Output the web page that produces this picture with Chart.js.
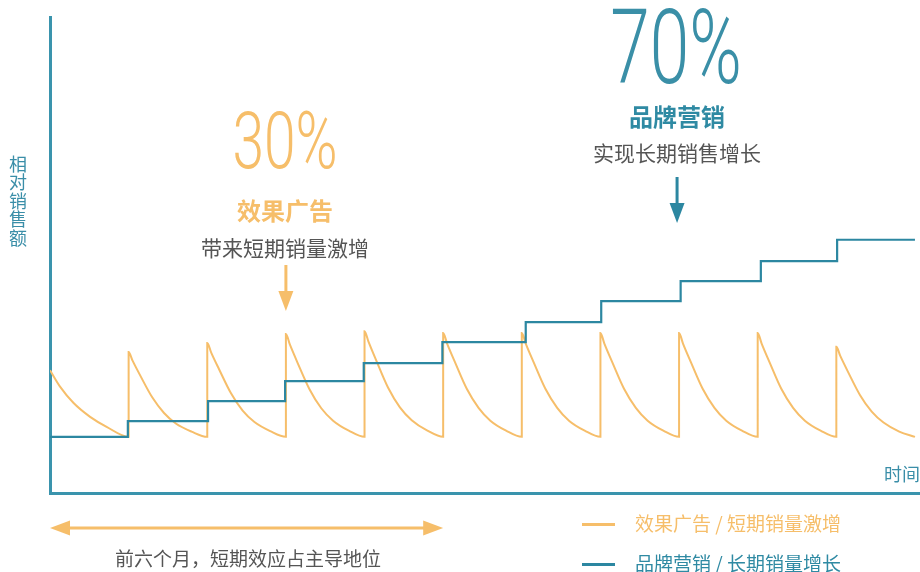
<!DOCTYPE html>
<html>
<head>
<meta charset="utf-8">
<script src="https://cdn.jsdelivr.net/npm/chart.js@4"></script>
<style>
html, body { margin: 0; padding: 0; background: #fff; }
#wrap { position: relative; width: 920px; height: 572px; font-family: "Noto Sans CJK SC", sans-serif; overflow: hidden; }
#wrap canvas { position: absolute; left: 0; top: 0; }
.t { position: absolute; white-space: nowrap; line-height: 1; transform: translate(-50%, -50%); }
.big { font-family: Roboto, sans-serif; font-weight: 300; }
.key { position: absolute; height: 3px; width: 33px; }
</style>
</head>
<body>
<div id="wrap">
  <canvas id="chart" width="920" height="572"></canvas>

  <div class="t" style="left:18px;top:201px;writing-mode:vertical-rl;font-size:18px;color:#3a8ea8;letter-spacing:0.5px;">相对销售额</div>
  <div class="t" style="left:902px;top:473px;font-size:18px;color:#3a8ea8;">时间</div>

  <div class="t big" style="left:285px;top:141px;font-size:79px;color:#f6be6a;transform:translate(-50%,-50%) scaleX(0.72);">30%</div>
  <div class="t" style="left:285px;top:210px;font-size:24px;font-weight:bold;color:#f6be6a;">效果广告</div>
  <div class="t" style="left:285px;top:247px;font-size:21px;color:#555;">带来短期销量激增</div>

  <div class="t big" style="left:676px;top:47px;font-size:103px;color:#3a8fa7;transform:translate(-50%,-50%) scaleX(0.69);">70%</div>
  <div class="t" style="left:677px;top:116px;font-size:24px;font-weight:bold;color:#2f8aa3;">品牌营销</div>
  <div class="t" style="left:677px;top:152px;font-size:21px;color:#555;">实现长期销售增长</div>

  <div class="t" style="left:248px;top:557px;font-size:19px;color:#555;">前六个月，短期效应占主导地位</div>

  <div class="key" style="left:582px;top:523px;background:#f6be6a;"></div>
  <div class="t" style="left:635px;top:522px;font-size:19px;color:#f6be6a;transform:translate(0,-50%);">效果广告 / 短期销量激增</div>
  <div class="key" style="left:582px;top:563px;background:#2c87a1;"></div>
  <div class="t" style="left:635px;top:562px;font-size:19px;color:#2f8aa3;transform:translate(0,-50%);">品牌营销 / 长期销量增长</div>
</div>

<script>
// 品牌营销：阶梯式增长（月份, 相对销售额）
const brandX = [0, 0.99, 2.01, 2.99, 3.99, 4.99, 6.05, 7.01, 8.02, 9.04, 10.01, 11];
const brandY = [11.8, 15.1, 19.3, 23.5, 27.3, 31.7, 35.9, 40.3, 44.5, 48.7, 53.2, 53.2];

// 效果广告：每月投放后的脉冲与衰减（月份, 相对销售额）
const adPoints = [
  [0, 25.8], [0.13, 22.3], [0.3, 18.9], [0.51, 16.0], [0.72, 13.9], [1, 11.8],
  [1, 29.6], [1.05, 27.8], [1.15, 24.6], [1.3, 20.1], [1.45, 16.8], [1.6, 14.6], [1.8, 12.9], [2, 11.8],
  [2, 31.5], [2.05, 29.5], [2.15, 26.0], [2.3, 21.0], [2.45, 17.3], [2.6, 14.9], [2.8, 13.0], [3, 11.8],
  [3, 33.4], [3.05, 31.2], [3.15, 27.3], [3.3, 21.8], [3.45, 17.8], [3.6, 15.2], [3.8, 13.1], [4, 11.8],
  [4, 34.0], [4.05, 31.8], [4.15, 27.8], [4.3, 22.1], [4.45, 18.0], [4.6, 15.3], [4.8, 13.1], [5, 11.8],
  [5, 33.6], [5.05, 31.4], [5.15, 27.5], [5.3, 21.9], [5.45, 17.9], [5.6, 15.2], [5.8, 13.1], [6, 11.8],
  [6, 33.6], [6.05, 31.4], [6.15, 27.5], [6.3, 21.9], [6.45, 17.9], [6.6, 15.2], [6.8, 13.1], [7, 11.8],
  [7, 33.6], [7.05, 31.4], [7.15, 27.5], [7.3, 21.9], [7.45, 17.9], [7.6, 15.2], [7.8, 13.1], [8, 11.8],
  [8, 33.6], [8.05, 31.4], [8.15, 27.5], [8.3, 21.9], [8.45, 17.9], [8.6, 15.2], [8.8, 13.1], [9, 11.8],
  [9, 33.6], [9.05, 31.4], [9.15, 27.5], [9.3, 21.9], [9.45, 17.9], [9.6, 15.2], [9.8, 13.1], [10, 11.8],
  [10, 30.7], [10.05, 28.8], [10.15, 25.4], [10.3, 20.6], [10.45, 17.1], [10.6, 14.8], [10.8, 12.9], [11, 11.8]
];

// 注释箭头所在月份
const adArrowMonth = 3;
const brandArrowMonth = 8;
const firstPhase = [0, 5];

const orange = '#f6be6a';
const teal = '#2c87a1';
const axisColor = '#3a94ad';

function arrowHead(ctx, x, y, dx, dy, len, half) {
    // (x,y) 是箭头尖端, (dx,dy) 是方向
    const px = -dy, py = dx;
    ctx.beginPath();
    ctx.moveTo(x, y);
    ctx.lineTo(x - dx * len + px * half, y - dy * len + py * half);
    ctx.lineTo(x - dx * len - px * half, y - dy * len - py * half);
    ctx.closePath();
    ctx.fill();
}

const arrows = {
    id: 'arrows',
    afterDraw(chart) {
        const ctx = chart.ctx;
        const x = chart.scales.x;
        ctx.save();
        ctx.lineWidth = 3;

        // 效果广告 向下箭头
        let ax = x.getPixelForValue(adArrowMonth);
        ctx.strokeStyle = orange; ctx.fillStyle = orange;
        ctx.beginPath(); ctx.moveTo(ax, 265); ctx.lineTo(ax, 295); ctx.stroke();
        arrowHead(ctx, ax, 311, 0, 1, 20, 7.5);

        // 品牌营销 向下箭头
        ax = x.getPixelForValue(brandArrowMonth) - 2;
        ctx.strokeStyle = teal; ctx.fillStyle = teal;
        ctx.beginPath(); ctx.moveTo(ax, 177); ctx.lineTo(ax, 207); ctx.stroke();
        arrowHead(ctx, ax, 223, 0, 1, 20, 7.5);

        // 前六个月 双向箭头
        const x0 = x.getPixelForValue(firstPhase[0]);
        const x1 = x.getPixelForValue(firstPhase[1]);
        ctx.strokeStyle = orange; ctx.fillStyle = orange;
        ctx.beginPath(); ctx.moveTo(x0 + 15, 528); ctx.lineTo(x1 - 15, 528); ctx.stroke();
        arrowHead(ctx, x0, 528, -1, 0, 20, 7.5);
        arrowHead(ctx, x1, 528, 1, 0, 20, 7.5);
        ctx.restore();
    }
};

const hiddenAxis = {
    grid: { display: false, drawTicks: false },
    ticks: { display: false },
    border: { display: true, color: axisColor, width: 3 }
};

new Chart(document.getElementById('chart'), {
    type: 'line',
    data: {
        datasets: [
            {
                label: '品牌营销 / 长期销量增长',
                data: brandX.map((m, i) => ({ x: m, y: brandY[i] })),
                borderColor: teal,
                borderWidth: 2.2,
                stepped: 'before',
                pointRadius: 0,
                fill: false
            },
            {
                label: '效果广告 / 短期销量激增',
                data: adPoints.map(([m, v]) => ({ x: m, y: v })),
                borderColor: orange,
                borderWidth: 2,
                cubicInterpolationMode: 'monotone',
                pointRadius: 0,
                fill: false
            }
        ]
    },
    options: {
        responsive: false,
        animation: false,
        layout: { padding: { left: 50, right: 0, top: 17, bottom: 79 } },
        plugins: { legend: { display: false }, tooltip: { enabled: false } },
        scales: {
            x: Object.assign({ type: 'linear', min: 0, max: 11.064 }, hiddenAxis),
            y: Object.assign({ min: 0, max: 100 }, hiddenAxis)
        }
    },
    plugins: [arrows]
});
</script>
</body>
</html>
